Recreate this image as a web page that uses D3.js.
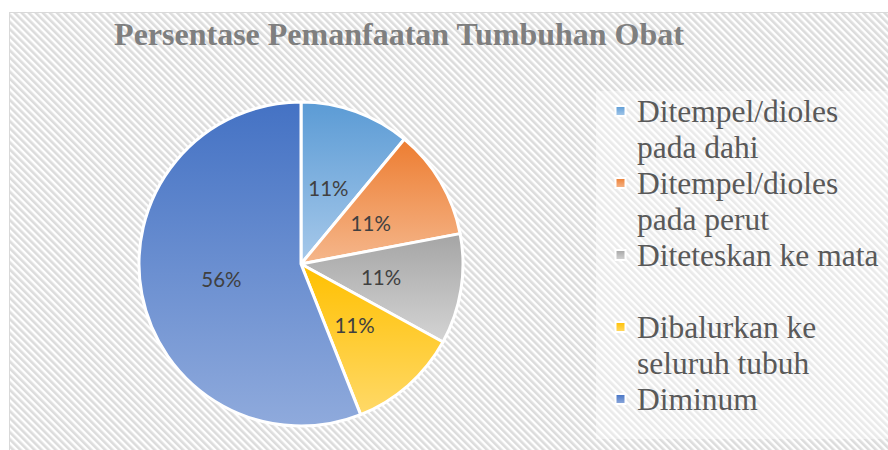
<!DOCTYPE html>
<html>
<head>
<meta charset="utf-8">
<script src="https://cdn.jsdelivr.net/npm/d3@7"></script>
<style>
  html, body { margin: 0; padding: 0; background: #ffffff; }
  svg { display: block; }
</style>
</head>
<body>
<svg id="chart" width="888" height="450"></svg>
<script>
// ---- data ----
const title = "Persentase Pemanfaatan Tumbuhan Obat";
const categories = [
  "Ditempel/dioles pada dahi",
  "Ditempel/dioles pada perut",
  "Diteteskan ke mata",
  "Dibalurkan ke seluruh tubuh",
  "Diminum"
];
const legendLines = [
  ["Ditempel/dioles", "pada dahi"],
  ["Ditempel/dioles", "pada perut"],
  ["Diteteskan ke mata"],
  ["Dibalurkan ke", "seluruh tubuh"],
  ["Diminum"]
];
const values = [11, 11, 11, 11, 56];
const baseColors = ["#5b9bd5", "#ed7d31", "#a5a5a5", "#ffc000", "#4472c4"];
const lightColors = ["#a7c9ea", "#f5b78c", "#d4d4d4", "#ffd968", "#8faadc"];

// ---- drawing ----
const svg = d3.select("#chart");
const defs = svg.append("defs");

// hatch pattern background
const pat = defs.append("pattern")
  .attr("id", "hatch")
  .attr("patternUnits", "userSpaceOnUse")
  .attr("width", 5).attr("height", 5)
  .attr("patternTransform", "rotate(-45)");
pat.append("rect").attr("width", 5).attr("height", 5).attr("fill", "#ffffff");
pat.append("rect").attr("width", 2.6).attr("height", 5).attr("fill", "#dcdcdc");

// gradients
categories.forEach((c, i) => {
  const g = defs.append("linearGradient")
    .attr("id", "grad" + i)
    .attr("x1", 0).attr("y1", 0).attr("x2", 0).attr("y2", 1);
  g.append("stop").attr("offset", "0%").attr("stop-color", baseColors[i]);
  g.append("stop").attr("offset", "100%").attr("stop-color", lightColors[i]);
});

// chart area with border
svg.append("rect")
  .attr("x", 9.5).attr("y", 12.5)
  .attr("width", 900).attr("height", 460)
  .attr("fill", "url(#hatch)")
  .attr("stroke", "#d9d9d9").attr("stroke-width", 1);

// title
svg.append("text")
  .attr("x", 399).attr("y", 45)
  .attr("text-anchor", "middle")
  .attr("font-family", "'Liberation Serif', 'Times New Roman', serif")
  .attr("font-weight", "bold")
  .attr("font-size", 32)
  .attr("fill", "#7f7f7f")
  .text(title);

// pie
const cx = 301, cy = 264, R = 162;
const pie = d3.pie().sort(null).value(d => d)(values);
const arc = d3.arc().innerRadius(0).outerRadius(R);
const g = svg.append("g").attr("transform", `translate(${cx},${cy})`);

g.selectAll("path.slice")
  .data(pie)
  .join("path")
  .attr("class", "slice")
  .attr("d", arc)
  .attr("fill", (d, i) => `url(#grad${i})`)
  .attr("stroke", "#ffffff")
  .attr("stroke-width", 3)
  .attr("stroke-linejoin", "round");

g.selectAll("text.lbl")
  .data(pie)
  .join("text")
  .attr("class", "lbl")
  .attr("transform", d => `translate(${arc.centroid(d)})`)
  .attr("text-anchor", "middle")
  .attr("dominant-baseline", "central")
  .attr("font-family", "Lato, 'Open Sans', sans-serif")
  .attr("font-size", 20.5)
  .attr("fill", "#404040")
  .text(d => d.data + "%");

// legend backdrop
svg.append("rect")
  .attr("x", 596).attr("y", 91)
  .attr("width", 292).attr("height", 348)
  .attr("fill", "#ffffff").attr("fill-opacity", 0.4);

const legend = svg.append("g");
const entryStep = 72, firstBaseline = 122, lineStep = 36;
const items = legend.selectAll("g.item")
  .data(legendLines)
  .join("g")
  .attr("class", "item")
  .attr("transform", (d, i) => `translate(0,${firstBaseline + i * entryStep})`);

items.append("rect")
  .attr("x", 615.5).attr("y", -16)
  .attr("width", 10).attr("height", 10)
  .attr("fill", (d, i) => `url(#grad${i})`)
  .attr("stroke", "#ffffff").attr("stroke-width", 2);

items.append("text")
  .attr("x", 637).attr("y", 0)
  .attr("font-family", "'Liberation Serif', 'Times New Roman', serif")
  .attr("font-size", 31.5)
  .attr("fill", "#595959")
  .selectAll("tspan")
  .data(d => d)
  .join("tspan")
  .attr("x", 637)
  .attr("dy", (d, j) => j === 0 ? 0 : lineStep)
  .text(d => d);
</script>
</body>
</html>
